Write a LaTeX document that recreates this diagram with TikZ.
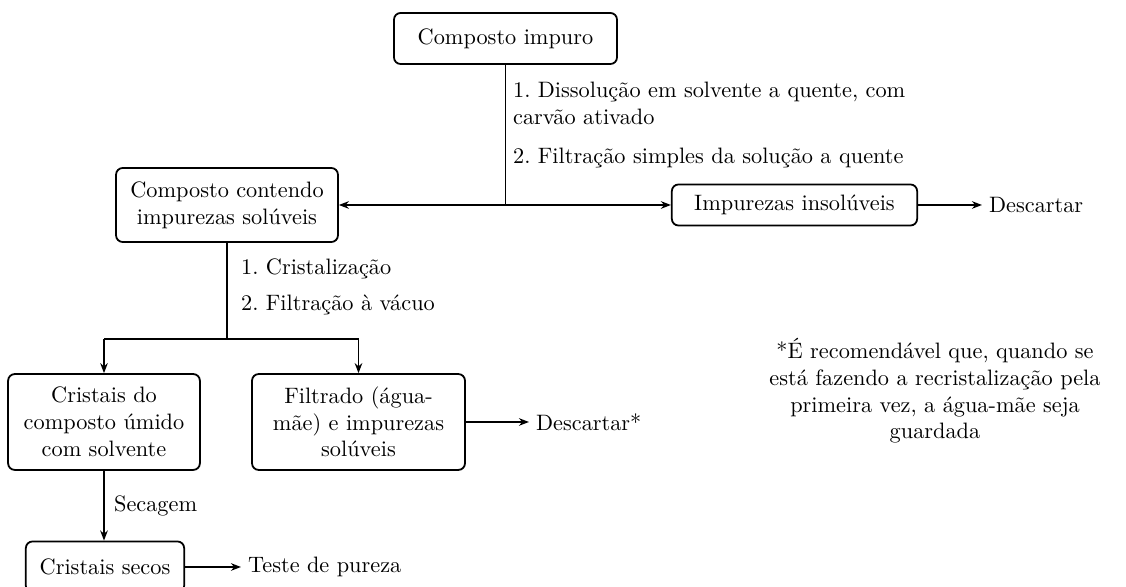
\documentclass[tikz,border=0pt]{standalone}
\usetikzlibrary{arrows.meta}
\begin{document}
\begin{tikzpicture}[x=0.4484pt,y=-0.4484pt,
  box/.style={draw,thick,rounded corners=3pt,align=center,inner sep=2pt},
  conn/.style={thick},
  arr/.style={thick,-{Stealth[length=4.5pt,width=3.4pt]}},
  lbl/.style={inner sep=3pt,align=left}]
\useasboundingbox (0,0) rectangle (1126,587);
% boxes
\node[box,minimum width=100pt,minimum height=22.9pt] (imp) at (505.5,38.5) {Composto impuro};
\node[box,minimum width=99.5pt,minimum height=33.2pt] (cont) at (227,205) {Composto contendo\\impurezas solúveis};
\node[box,minimum width=110pt,minimum height=18.4pt] (insol) at (794.5,205) {Impurezas insolúveis};
\node[box,minimum width=86pt,minimum height=43pt] (cris) at (104,422) {Cristais do\\composto úmido\\com solvente};
\node[box,minimum width=95.5pt,minimum height=43pt] (filt) at (358.5,422) {Filtrado (água-\\mãe) e impurezas\\solúveis};
\node[box,minimum width=71pt,minimum height=22.9pt] (secos) at (105,567) {Cristais secos};
% free texts
\node[lbl,anchor=west] (desc1) at (982,205) {Descartar};
\node[lbl,anchor=west] (desc2) at (529,422) {Descartar*};
\node[lbl,anchor=west] (teste) at (241,567) {Teste de pureza};
\node[lbl,anchor=west] (l1) at (506,103.5) {1.\ Dissolução em solvente a quente, com\\carvão ativado};
\node[lbl,anchor=west] (l2) at (506,158) {2.\ Filtração simples da solução a quente};
\node[lbl,anchor=west] (l3) at (234,269) {1.\ Cristalização};
\node[lbl,anchor=west] (l4) at (234,305) {2.\ Filtração à vácuo};
\node[lbl,anchor=west] (l5) at (107,506) {Secagem};
\node[align=center,inner sep=0pt] (note) at (935,391) {*É recomendável que, quando se\\está fazendo a recristalização pela\\primeira vez, a água-mãe seja\\guardada};
% connectors
\coordinate (j1) at (imp.south |- cont.east);
\draw[conn] (imp.south) -- (j1);
\draw[arr] (j1) -- (cont.east);
\draw[arr] (j1) -- (insol.west);
\draw[arr] (insol.east) -- (desc1.west);
\coordinate (jy) at (0,339);
\coordinate (j2) at (cont.south |- jy);
\coordinate (jl) at (cris.north |- jy);
\coordinate (jr) at (filt.north |- jy);
\draw[conn] (cont.south) -- (j2);
\draw[conn] (jl) -- (jr);
\draw[arr] (jl) -- (cris.north);
\draw[arr] (jr) -- (filt.north);
\draw[arr] (filt.east) -- (desc2.west);
\draw[arr] (cris.south) -- (cris.south |- secos.north);
\draw[arr] (secos.east) -- (teste.west);
\end{tikzpicture}
\end{document}
